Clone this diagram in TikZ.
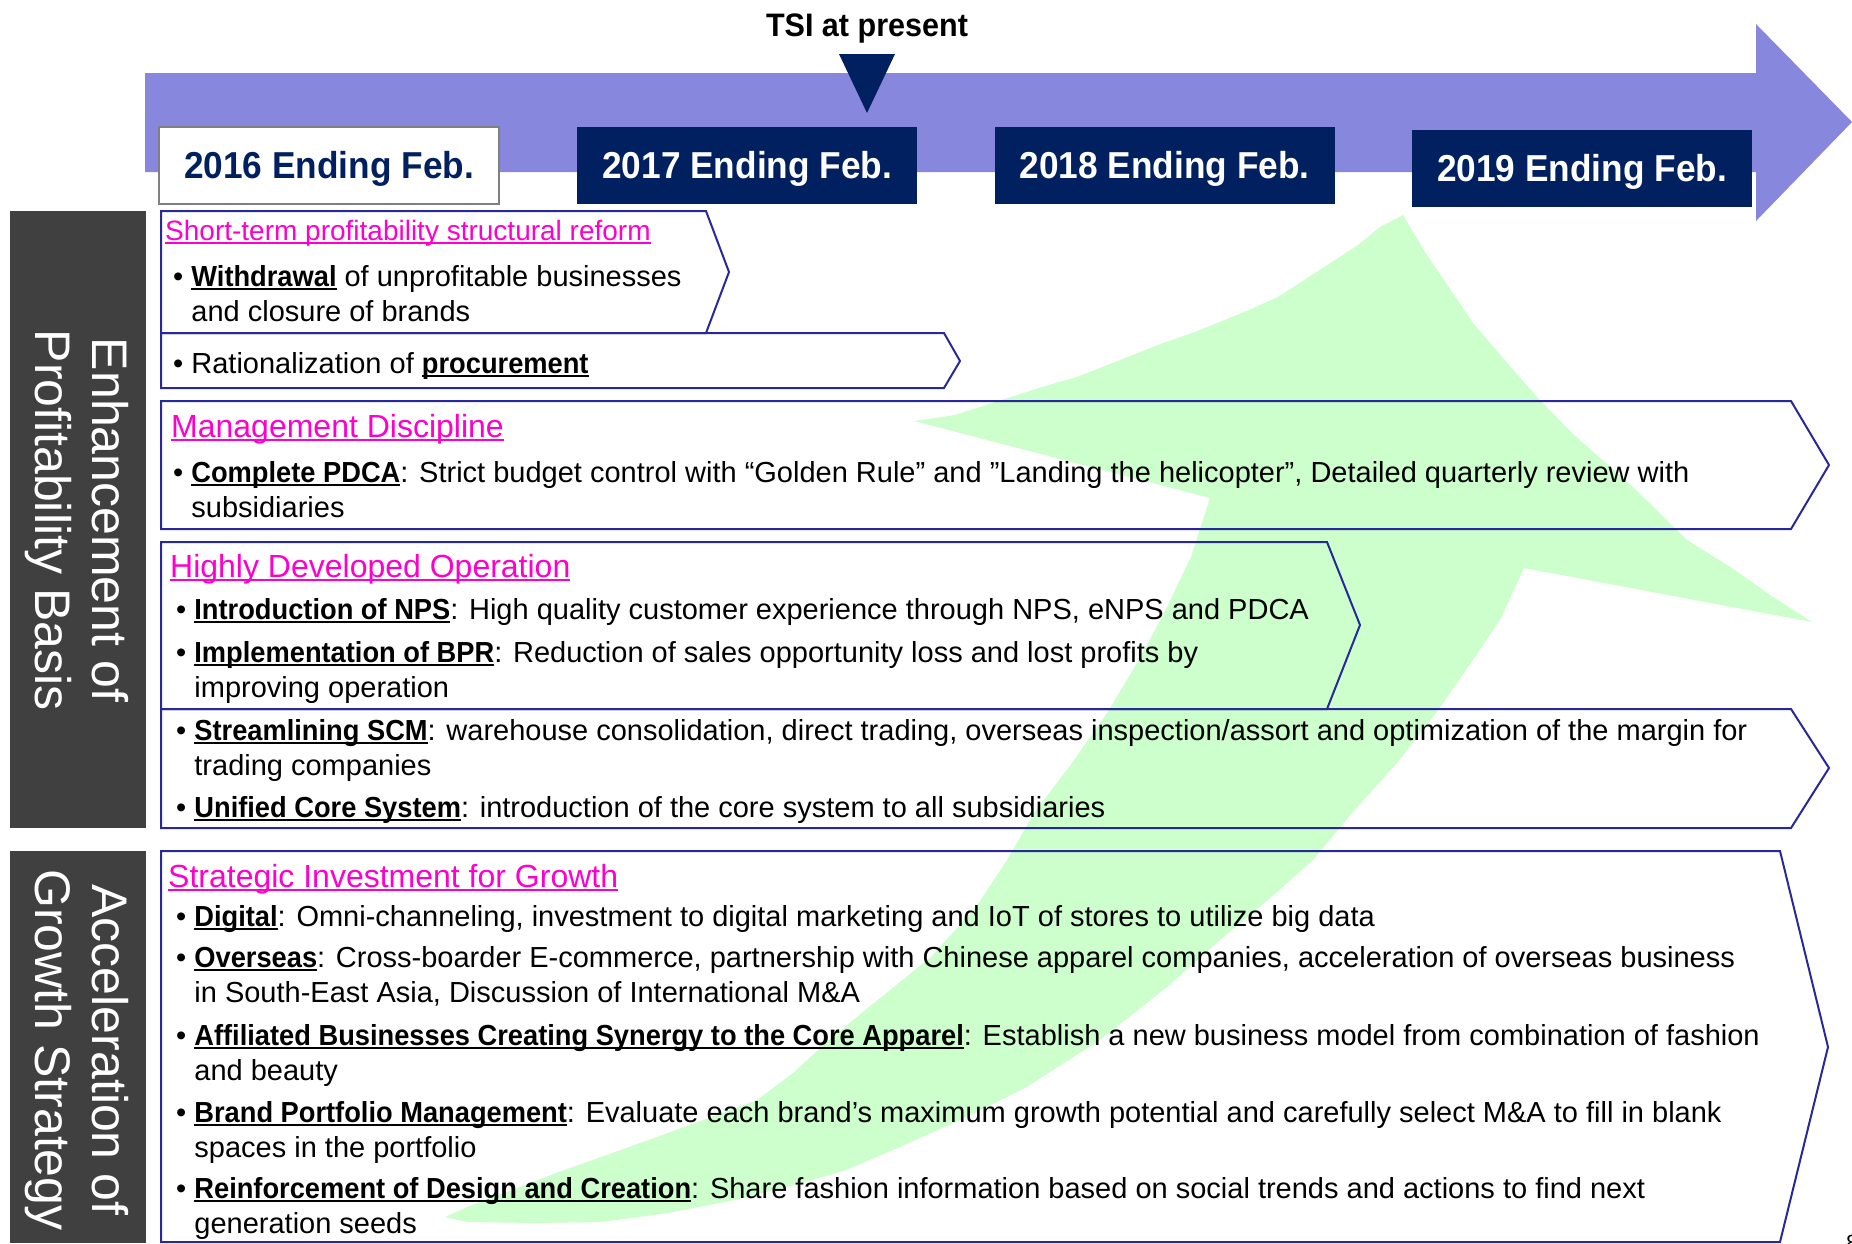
\documentclass[tikz,border=0pt]{standalone}
\usepackage{fontspec}
\setmainfont{Liberation Sans}[BoldFeatures={FakeStretch=0.94}]
\usetikzlibrary{positioning}
\definecolor{navy}{RGB}{0,32,96}
\definecolor{lavender}{RGB}{135,135,221}
\definecolor{mint}{RGB}{204,255,204}
\definecolor{pinkhead}{RGB}{255,0,204}
\definecolor{boxline}{RGB}{40,40,150}
\definecolor{sidebar}{RGB}{64,64,64}
\newcommand\ulbox[2][black]{\setbox0=\hbox{#2}\rlap{\color{#1}\rule[-3.5pt]{\wd0}{2pt}}\box0\relax}
\newcommand\uterm[1]{\ulbox{\bfseries #1}}
\newcommand\bulletgap{\hphantom{\textbullet\ }}
\tikzset{
	>=latex,
}

\begin{document}
\begin{tikzpicture}[x=1pt,y=-1pt,
		yearbox/.style={rectangle, minimum width=340pt, minimum height=77pt, inner sep=0pt, text depth=0pt, fill=navy, text=white, font=\bfseries\fontsize{37.5}{44}\selectfont},
		firstyear/.style={yearbox, fill=white, draw=black!50, line width=2pt, text=navy},
		side/.style={rotate=-90, text=white, align=center, font=\fontsize{50}{57}\selectfont},
		frame/.style={draw=boxline, line width=2pt, line join=miter},
		head/.style={anchor=base west, inner sep=0pt, text=pinkhead, font=\fontsize{32}{38}\selectfont},
		item/.style={anchor=base west, inner sep=0pt, align=left, font=\fontsize{29}{35}\selectfont},
	]
	\useasboundingbox (0,0) rectangle (1852,1243);

	% time line
	\fill[lavender] (145,73) -- (1756,73) -- (1756,24) -- (1852,122) -- (1756,221) -- (1756,172) -- (145,172) -- cycle;
	\node[firstyear] (y16) at (329,165) {2016 Ending Feb.};
	\node[yearbox,right=77pt of y16] (y17) {2017 Ending Feb.};
	\node[yearbox,right=77pt of y17] (y18) {2018 Ending Feb.};
	\node[yearbox,right=77pt of y18,yshift=-3pt] (y19) {2019 Ending Feb.};
	\fill[navy] (839,54) -- (895,54) -- (867,113) -- cycle;
	\node[anchor=base, inner sep=0pt, font=\bfseries\fontsize{32.5}{38}\selectfont] (now) at (867,36) {TSI at present};

	% left bars
	\fill[sidebar] (10,211) rectangle (146,828);
	\fill[sidebar] (10,851) rectangle (146,1243);
	\node[side] (profit) at (77,520) {Enhancement of\\Profitability Basis};
	\node[side] (growth) at (77,1050) {Acceleration of\\Growth Strategy};

	% growth arrow
	\fill[mint] (1403,215) -- (1425,252) -- (1473,323) -- (1502,357) -- (1537,397) -- (1572,433) -- (1636,490)
		-- (1687,540) -- (1732,568) -- (1770,595) -- (1812,622) -- (1524,568) -- (1500,620) -- (1459,680)
		-- (1436,713) -- (1397,763) -- (1352,813) -- (1313,860) -- (1276,893) -- (1220,940) -- (1167,987)
		-- (1100,1040) -- (1025,1088) -- (960,1120) -- (900,1147) -- (846,1170) -- (802,1183) -- (735,1200)
		-- (668,1213) -- (601,1222) -- (534,1223) -- (467,1222) -- (445,1217) -- (467,1207) -- (512,1190)
		-- (556,1173) -- (601,1157) -- (668,1133) -- (757,1100) -- (793,1073) -- (829,1040) -- (869,1007)
		-- (931,957) -- (976,907) -- (1007,860) -- (1034,813) -- (1072,763) -- (1107,713) -- (1137,663)
		-- (1164,613) -- (1191,557) -- (1210,498) -- (914,421) -- (955,415) -- (1042,387) -- (1077,377)
		-- (1163,343) -- (1195,332) -- (1249,310) -- (1278,297) -- (1358,245) -- (1380,227) -- cycle;

	% frames
	\draw[frame] (161,211) -- (706,211) -- (729,272) -- (706,333) -- (161,333) -- cycle;
	\draw[frame] (161,333) -- (944,333) -- (960,361) -- (944,388) -- (161,388) -- cycle;
	\draw[frame] (161,401) -- (1791,401) -- (1829,465) -- (1791,529) -- (161,529) -- cycle;
	\draw[frame] (161,542) -- (1327,542) -- (1360,625) -- (1327,709) -- (161,709) -- cycle;
	\draw[frame] (161,709) -- (1791,709) -- (1829,768) -- (1791,828) -- (161,828) -- cycle;
	\draw[frame] (161,851) -- (1780,851) -- (1828,1047) -- (1780,1242) -- (161,1242) -- cycle;

	% short-term reform
	\node[head,font=\fontsize{28}{34}\selectfont] (reform) at (165,240) {\ulbox[pinkhead]{Short-term profitability structural reform}};
	\node[item] (withdraw) at (173,321) {\textbullet\ \uterm{Withdrawal} of unprofitable businesses\\\bulletgap and closure of brands};
	\node[item] (procure) at (173,373) {\textbullet\ Rationalization of \uterm{procurement}};

	% discipline
	\node[head] (discipline) at (171,437) {\ulbox[pinkhead]{Management Discipline}};
	\node[item] (pdca) at (173,517) {\textbullet\ \uterm{Complete PDCA}: Strict budget control with “Golden Rule” and ”Landing the helicopter”, Detailed quarterly review with\\\bulletgap subsidiaries};

	% operation
	\node[head] (operation) at (170,577) {\ulbox[pinkhead]{Highly Developed Operation}};
	\node[item] (nps) at (176,619) {\textbullet\ \uterm{Introduction of NPS}: High quality customer experience through NPS, eNPS and PDCA};
	\node[item] (bpr) at (176,697) {\textbullet\ \uterm{Implementation of BPR}: Reduction of sales opportunity loss and lost profits by\\\bulletgap improving operation};
	\node[item] (scm) at (176,775) {\textbullet\ \uterm{Streamlining SCM}: warehouse consolidation, direct trading, overseas inspection/assort and optimization of the margin for\\\bulletgap trading companies};
	\node[item] (core) at (176,817) {\textbullet\ \uterm{Unified Core System}: introduction of the core system to all subsidiaries};

	% growth
	\node[head] (invest) at (168,887) {\ulbox[pinkhead]{Strategic Investment for Growth}};
	\node[item] (digital) at (176,926) {\textbullet\ \uterm{Digital}: Omni-channeling, investment to digital marketing and IoT of stores to utilize big data};
	\node[item] (overseas) at (176,1002) {\textbullet\ \uterm{Overseas}: Cross-boarder E-commerce, partnership with Chinese apparel companies, acceleration of overseas business\\\bulletgap in South-East Asia, Discussion of International M\&A};
	\node[item] (synergy) at (176,1080) {\textbullet\ \uterm{Affiliated Businesses Creating Synergy to the Core Apparel}: Establish a new business model from combination of fashion\\\bulletgap and beauty};
	\node[item] (portfolio) at (176,1157) {\textbullet\ \uterm{Brand Portfolio Management}: Evaluate each brand’s maximum growth potential and carefully select M\&A to fill in blank\\\bulletgap spaces in the portfolio};
	\node[item] (design) at (176,1233) {\textbullet\ \uterm{Reinforcement of Design and Creation}: Share fashion information based on social trends and actions to find next\\\bulletgap generation seeds};

	\node[anchor=base west, inner sep=0pt, font=\fontsize{22}{26}\selectfont] (page) at (1846,1250) {8};
\end{tikzpicture}
\end{document}
